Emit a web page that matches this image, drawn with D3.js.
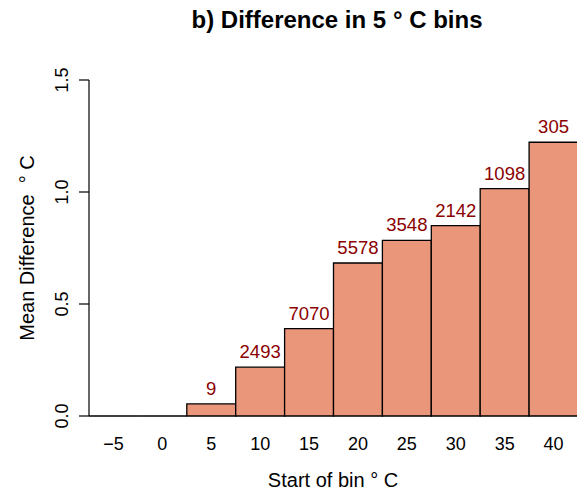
<!DOCTYPE html>
<html>
<head>
<meta charset="utf-8">
<script src="https://cdn.jsdelivr.net/npm/d3@7"></script>
<style>
  body { margin: 0; background: #fff; }
  text { font-family: "Liberation Sans", Arial, Helvetica, sans-serif; }
</style>
</head>
<body>
<div class="canvas"></div>
<script>
// chart data
const bins = [-5, 0, 5, 10, 15, 20, 25, 30, 35, 40];
const meanDiff = [0, 0, 0.054, 0.218, 0.39, 0.683, 0.784, 0.85, 1.015, 1.222];
const counts = [null, null, 9, 2493, 7070, 5578, 3548, 2142, 1098, 305];
const yTicks = [0, 0.5, 1.0, 1.5];

const barColor = '#E9967A';
const labelColor = '#8B0000';

const svg = d3.select('.canvas')
    .append('svg')
    .attr('width', 577)
    .attr('height', 494);

// plot region
const plot = {left: 89, right: 578, top: 80, bottom: 416};

const x = d3.scaleBand()
    .domain(bins)
    .range([plot.left, plot.right])
    .padding(0);

const y = d3.scaleLinear()
    .domain([0, 1.5])
    .range([plot.bottom, plot.top]);

const data = bins.map((b, i) => ({bin: b, value: meanDiff[i], n: counts[i]}));

// bars drawn as paths so zero-height bars still show their outline
svg.selectAll('path.bar')
    .data(data)
    .enter()
    .append('path')
    .attr('class', 'bar')
    .attr('d', d => {
        const x0 = x(d.bin), x1 = x0 + x.bandwidth();
        const y0 = y(0), y1 = y(d.value);
        return `M${x0},${y0}V${y1}H${x1}V${y0}Z`;
    })
    .attr('fill', barColor)
    .attr('stroke', '#000')
    .attr('stroke-width', 1.3);

// count labels above bars
svg.selectAll('text.count')
    .data(data.filter(d => d.n !== null))
    .enter()
    .append('text')
    .attr('class', 'count')
    .attr('x', d => x(d.bin) + x.bandwidth() / 2)
    .attr('y', d => y(d.value) - 9)
    .attr('text-anchor', 'middle')
    .attr('fill', labelColor)
    .attr('font-size', 18.5)
    .text(d => d.n);

// y axis, R style
const yAxis = d3.axisLeft(y)
    .tickValues(yTicks)
    .tickSize(10)
    .tickPadding(0)
    .tickFormat(d3.format('.1f'));

const yAxisGroup = svg.append('g')
    .attr('transform', `translate(${plot.left},0)`)
    .call(yAxis);

yAxisGroup.select('.domain')
    .attr('d', `M0,${y(0)}V${y(1.5)}`)
    .attr('stroke', '#000')
    .attr('stroke-width', 1.2);
yAxisGroup.selectAll('.tick').attr('transform', null);
yAxisGroup.selectAll('.tick line')
    .attr('y1', d => y(d))
    .attr('y2', d => y(d))
    .attr('stroke', '#000')
    .attr('stroke-width', 1.2);
yAxisGroup.selectAll('text')
    .attr('x', 0)
    .attr('y', 0)
    .attr('dy', 0)
    .attr('transform', d => `translate(-21.5,${y(d)}) rotate(-90)`)
    .attr('text-anchor', 'middle')
    .attr('fill', '#000')
    .attr('font-size', 18)
    .style('font-family', '"Liberation Sans", Arial, sans-serif');

// bin names under bars
svg.selectAll('text.bin')
    .data(bins)
    .enter()
    .append('text')
    .attr('class', 'bin')
    .attr('x', d => x(d) + x.bandwidth() / 2)
    .attr('y', 450)
    .attr('text-anchor', 'middle')
    .attr('font-size', 18)
    .text(d => d < 0 ? '\u2212' + Math.abs(d) : d);

// titles
svg.append('text')
    .attr('x', 337)
    .attr('y', 28)
    .attr('text-anchor', 'middle')
    .attr('font-size', 24)
    .attr('font-weight', 'bold')
    .text('b) Difference in 5 \u00b0 C bins');

svg.append('text')
    .attr('x', 333)
    .attr('y', 487)
    .attr('text-anchor', 'middle')
    .attr('font-size', 20)
    .text('Start of bin \u00b0 C');

svg.append('text')
    .attr('transform', `translate(34,${(plot.top + plot.bottom) / 2}) rotate(-90)`)
    .attr('text-anchor', 'middle')
    .attr('font-size', 20)
    .style('white-space', 'pre')
    .text('Mean Difference  \u00b0 C');
</script>
</body>
</html>
